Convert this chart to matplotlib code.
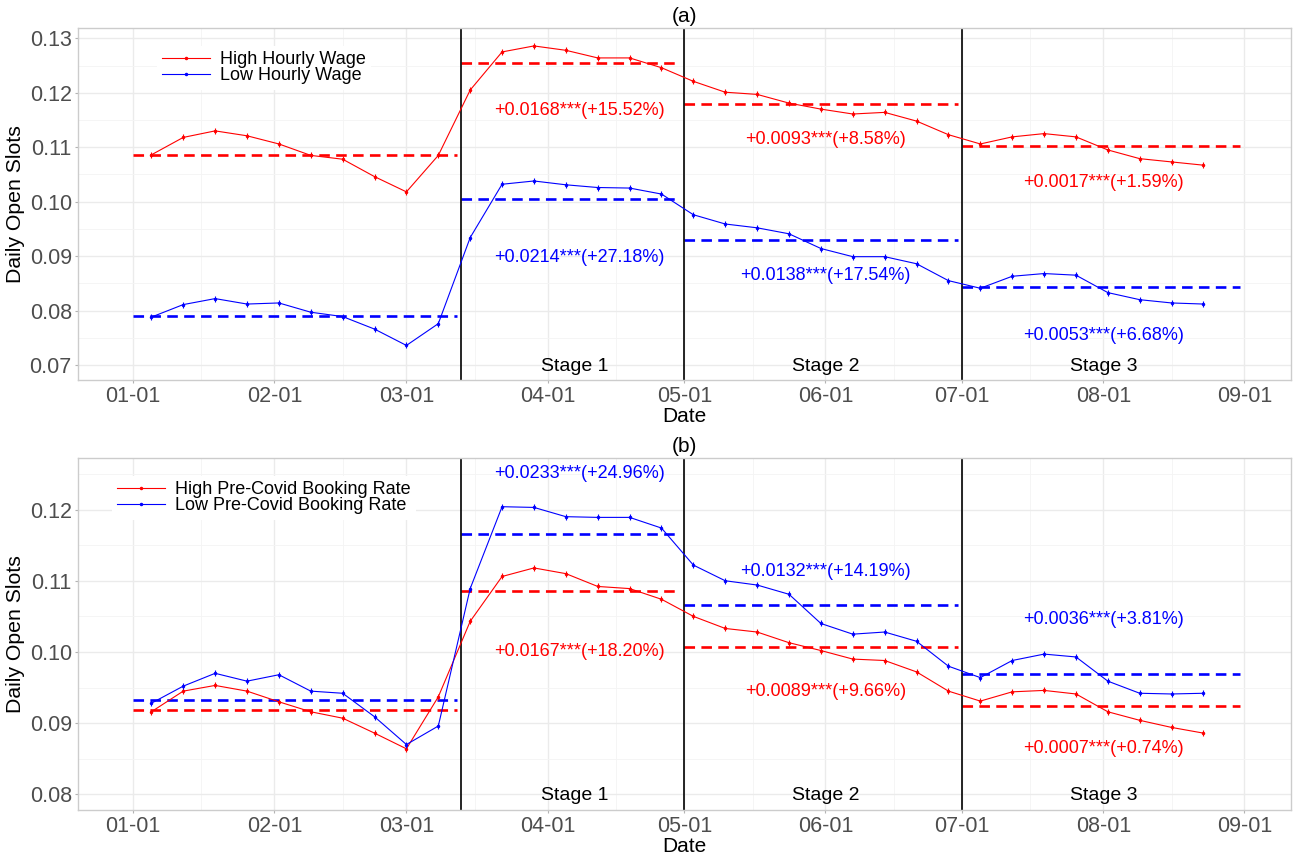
import numpy as np
import pandas as pd
import matplotlib
matplotlib.use('Agg')
import matplotlib.pyplot as plt
import matplotlib.dates as mdates
from matplotlib.ticker import MultipleLocator

plt.rcParams['font.family'] = ['Liberation Sans', 'DejaVu Sans']

# weekly observation dates (Sundays)
weeks = pd.date_range('2020-01-05', '2020-08-23', freq='7D')

# panel (a): hourly wage groups
high_wage = [0.1086, 0.1118, 0.1130, 0.1121, 0.1106, 0.1085, 0.1078, 0.1046, 0.1018, 0.1085,
             0.1205, 0.1275, 0.1286, 0.1278, 0.1264, 0.1264, 0.1246, 0.1221, 0.1201, 0.1197,
             0.1181, 0.1170, 0.1161, 0.1164, 0.1148, 0.1123, 0.1106, 0.1119, 0.1125, 0.1119,
             0.1095, 0.1079, 0.1073, 0.1067]
low_wage = [0.0788, 0.0811, 0.0822, 0.0812, 0.0814, 0.0797, 0.0789, 0.0766, 0.0736, 0.0776,
            0.0934, 0.1032, 0.1038, 0.1031, 0.1026, 0.1025, 0.1014, 0.0976, 0.0959, 0.0952,
            0.0941, 0.0914, 0.0899, 0.0899, 0.0886, 0.0855, 0.0841, 0.0863, 0.0868, 0.0865,
            0.0833, 0.0820, 0.0814, 0.0812]
high_wage_mean = [0.1086, 0.1254, 0.1179, 0.1103]
low_wage_mean = [0.0790, 0.1005, 0.0929, 0.0843]
high_wage_eff = ['+0.0168***(+15.52%)', '+0.0093***(+8.58%)', '+0.0017***(+1.59%)']
low_wage_eff = ['+0.0214***(+27.18%)', '+0.0138***(+17.54%)', '+0.0053***(+6.68%)']

# panel (b): pre-covid booking rate groups
high_book = [0.0916, 0.0945, 0.0953, 0.0945, 0.0930, 0.0916, 0.0907, 0.0886, 0.0864, 0.0937,
             0.1043, 0.1106, 0.1118, 0.1110, 0.1092, 0.1089, 0.1074, 0.1050, 0.1033, 0.1028,
             0.1013, 0.1002, 0.0990, 0.0988, 0.0972, 0.0945, 0.0931, 0.0944, 0.0946, 0.0941,
             0.0916, 0.0904, 0.0894, 0.0886]
low_book = [0.0928, 0.0952, 0.0970, 0.0959, 0.0968, 0.0945, 0.0942, 0.0909, 0.0870, 0.0896,
            0.1089, 0.1204, 0.1203, 0.1190, 0.1189, 0.1189, 0.1174, 0.1122, 0.1100, 0.1094,
            0.1081, 0.1040, 0.1025, 0.1028, 0.1015, 0.0980, 0.0964, 0.0988, 0.0997, 0.0993,
            0.0959, 0.0942, 0.0941, 0.0942]
high_book_mean = [0.0918, 0.1085, 0.1007, 0.0924]
low_book_mean = [0.0932, 0.1166, 0.1066, 0.0969]
high_book_eff = ['+0.0167***(+18.20%)', '+0.0089***(+9.66%)', '+0.0007***(+0.74%)']
low_book_eff = ['+0.0233***(+24.96%)', '+0.0132***(+14.19%)', '+0.0036***(+3.81%)']

period_start = pd.to_datetime(['2020-01-01', '2020-03-13', '2020-05-01', '2020-07-01'])
period_end = pd.to_datetime(['2020-03-12', '2020-04-30', '2020-06-30', '2020-08-31'])
stage_names = ['Stage 1', 'Stage 2', 'Stage 3']
stage_mid = pd.to_datetime(['2020-04-07', '2020-06-01', '2020-08-01'])
eff_mid = pd.to_datetime(['2020-04-08', '2020-06-01', '2020-08-01'])

RED = '#FF0000'
BLUE = '#0000FF'

fig = plt.figure(figsize=(12.96, 8.58), dpi=100)
ax_a = fig.add_axes([0.0602, 0.5571, 0.9359, 0.4103])
ax_b = fig.add_axes([0.0602, 0.0559, 0.9359, 0.4103])

def draw_panel(ax, title, hi, lo, hi_mean, lo_mean, hi_lab, lo_lab, hi_eff, lo_eff,
               hi_y, lo_y, stage_y, ylim, leg_anchor):
    ax.set_facecolor('white')
    # data lines
    ax.plot(weeks, hi, color=RED, lw=0.8, marker='.', ms=3, label=hi_lab, zorder=3)
    ax.plot(weeks, lo, color=BLUE, lw=0.8, marker='.', ms=3, label=lo_lab, zorder=3)
    ax.plot(weeks, hi, ls='none', color=RED, marker='|', ms=5, mew=0.8, zorder=3)
    ax.plot(weeks, lo, ls='none', color=BLUE, marker='|', ms=5, mew=0.8, zorder=3)
    # period means
    for s, e, m in zip(period_start, period_end, hi_mean):
        ax.plot([s, e], [m, m], color=RED, lw=1.9, dashes=(4, 2.4), zorder=2)
    for s, e, m in zip(period_start, period_end, lo_mean):
        ax.plot([s, e], [m, m], color=BLUE, lw=1.9, dashes=(4, 2.4), zorder=2)
    for d in period_start[1:]:
        ax.axvline(d, color='black', lw=1.2, zorder=2)
    for i in range(3):
        ax.text(eff_mid[i], hi_y[i], hi_eff[i], color=RED, fontsize=13, ha='center', va='center')
        ax.text(eff_mid[i], lo_y[i], lo_eff[i], color=BLUE, fontsize=13, ha='center', va='center')
        ax.text(stage_mid[i], stage_y, stage_names[i], color='black', fontsize=14,
                ha='center', va='center')

    x0 = pd.Timestamp('2020-01-01')
    ax.set_xlim(x0 - pd.Timedelta(days=12.1), x0 + pd.Timedelta(days=254.2))
    ax.set_ylim(*ylim)
    ax.xaxis.set_major_locator(mdates.MonthLocator())
    ax.xaxis.set_minor_locator(mdates.MonthLocator(bymonthday=16))
    ax.xaxis.set_major_formatter(mdates.DateFormatter('%m-%d'))
    ax.yaxis.set_major_locator(MultipleLocator(0.01))
    ax.yaxis.set_minor_locator(MultipleLocator(0.005))
    ax.yaxis.set_major_formatter(plt.FormatStrFormatter('%.2f'))
    ax.grid(which='major', color='#EBEBEB', lw=1.0, zorder=0)
    ax.grid(which='minor', color='#F4F4F4', lw=0.6, zorder=0)
    ax.set_axisbelow(True)
    ax.tick_params(which='major', length=2.5, width=0.8, color='#B3B3B3', labelcolor='#4D4D4D',
                   labelsize=15.5, pad=2)
    ax.tick_params(which='minor', length=0)
    for sp in ax.spines.values():
        sp.set_color('#CCCCCC')
        sp.set_linewidth(1.0)
    ax.set_xlabel('Date', fontsize=15, labelpad=0)
    ax.set_ylabel('Daily Open Slots', fontsize=15.3, labelpad=3)
    ax.set_title(title, fontsize=15, pad=4)
    leg = ax.legend(loc='upper left', bbox_to_anchor=leg_anchor, borderaxespad=0,
                    fontsize=13, frameon=True, fancybox=False, edgecolor='white',
                    framealpha=1.0, handlelength=2.65, handletextpad=0.55,
                    labelspacing=-0.05, borderpad=0.3, markerscale=1.0)
    leg.get_frame().set_linewidth(0)

draw_panel(ax_a, '(a)', high_wage, low_wage, high_wage_mean, low_wage_mean,
           'High Hourly Wage', 'Low Hourly Wage', high_wage_eff, low_wage_eff,
           [0.1168, 0.1115, 0.1036], [0.0897, 0.0864, 0.0754], 0.0697,
           (0.06725, 0.1319), (0.0648, 0.950))
draw_panel(ax_b, '(b)', high_book, low_book, high_book_mean, low_book_mean,
           'High Pre-Covid Booking Rate', 'Low Pre-Covid Booking Rate', high_book_eff, low_book_eff,
           [0.1001, 0.0944, 0.0864], [0.1250, 0.1113, 0.1046], 0.0798,
           (0.0778, 0.12724), (0.0277, 0.950))

fig.savefig('out.png', dpi=100)
